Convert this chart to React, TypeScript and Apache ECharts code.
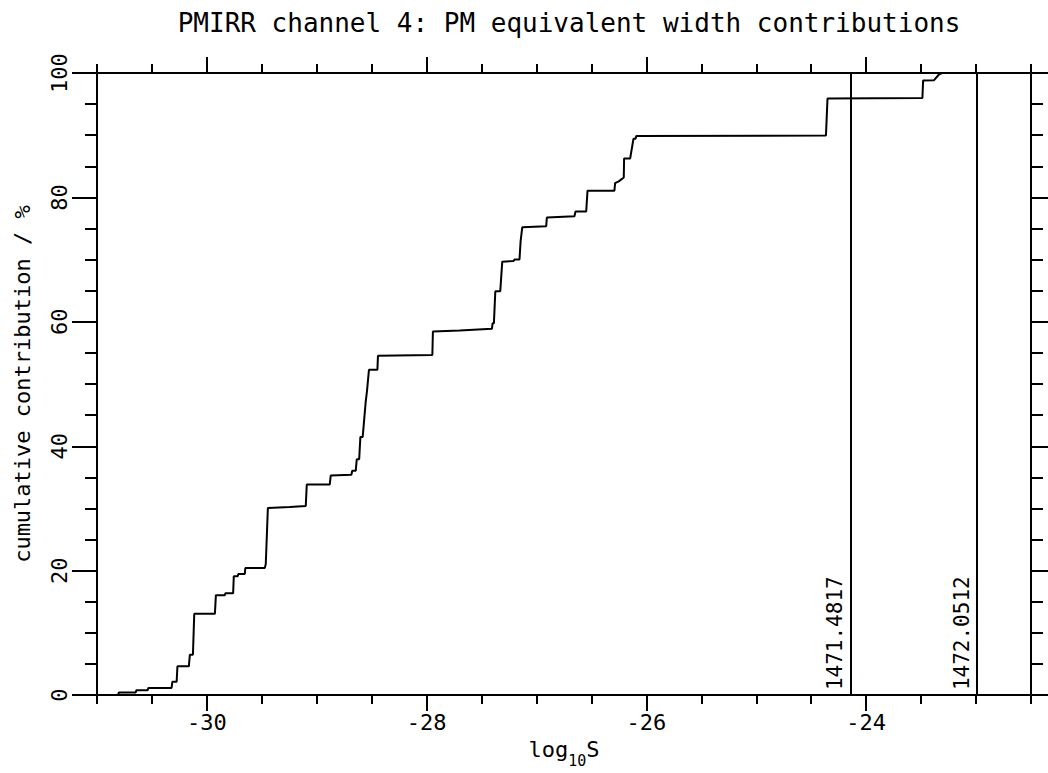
import React, { useEffect, useRef } from "react";
import * as echarts from "echarts";

const titleText = "PMIRR channel 4: PM equivalent width contributions";
const yAxisTitle = "cumulative contribution / %";

const X_MIN = -31;
const X_MAX = -22.5;
const xMajorTicks = [-30, -28, -26, -24];

// cumulative curve: log10 S values and cumulative percentage
const curveLogS = [
  -31.0, -30.809, -30.8, -30.648, -30.641, -30.539, -30.532, -30.321, -30.314, -30.275,
  -30.268, -30.164, -30.155, -30.127, -30.115, -29.927, -29.918, -29.836, -29.832, -29.761,
  -29.755, -29.718, -29.714, -29.655, -29.65, -29.473, -29.464, -29.445, -29.245, -29.1,
  -29.091, -28.882, -28.873, -28.685, -28.677, -28.645, -28.636, -28.614, -28.603, -28.582,
  -28.555, -28.543, -28.525, -28.448, -28.443, -27.948, -27.943, -27.7, -27.406, -27.4,
  -27.388, -27.375, -27.33, -27.312, -27.209, -27.2, -27.155, -27.145, -27.13, -26.912,
  -26.906, -26.655, -26.645, -26.548, -26.536, -26.291, -26.285, -26.252, -26.206, -26.203,
  -26.148, -26.118, -26.1, -26.091, -24.366, -24.352, -23.488, -23.482, -23.382, -23.336,
  -23.309, -22.791,
];
const curveCumPct = [
  0, 0, 0.43, 0.43, 0.79, 0.79, 1.15, 1.15, 2.16, 2.16,
  4.63, 4.63, 6.48, 6.48, 13.06, 13.06, 16.07, 16.07, 16.38, 16.38,
  19.12, 19.12, 19.48, 19.48, 20.43, 20.43, 21.06, 30.06, 30.25, 30.4,
  33.85, 33.85, 35.28, 35.43, 36.07, 36.07, 37.91, 37.91, 41.5, 41.5,
  47.08, 48.86, 52.29, 52.29, 54.55, 54.66, 58.45, 58.6, 58.88, 59.76,
  59.76, 64.93, 64.93, 69.67, 69.78, 70.03, 70.03, 72.94, 75.2, 75.36,
  76.78, 76.98, 77.73, 77.73, 81.09, 81.09, 82.31, 82.58, 83.2, 86.26,
  86.26, 89.42, 89.42, 89.89, 89.94, 95.89, 96.0, 98.78, 98.85, 99.8,
  100, 100,
];

// vertical markers
const markerLogS = [-24.139, -22.994];
const markerLabels = ["1471.4817", "1472.0512"];

const FONT = "DejaVu Sans Mono";
const BLACK = "#000";

export default function App() {
  const ref = useRef<HTMLDivElement>(null);

  useEffect(() => {
    if (!ref.current) return;
    const chart = echarts.init(ref.current, undefined, { renderer: "svg" });
    const data = curveLogS.map((x, i) => [x, curveCumPct[i]]);
    const lineStyle = { color: BLACK, width: 2 };
    const xCommon = {
      type: "value",
      min: X_MIN,
      max: X_MAX,
      splitLine: { show: false },
      axisLine: { show: true, onZero: false, lineStyle },
    };
    const yCommon = {
      type: "value",
      min: 0,
      max: 100,
      interval: 20,
      splitLine: { show: false },
      minorSplitLine: { show: false },
      axisLine: { show: true, onZero: false, lineStyle },
      axisTick: { show: true, length: 25, lineStyle },
      minorTick: { show: true, splitNumber: 4, length: 12, lineStyle },
    };
    chart.setOption({
      animation: false,
      backgroundColor: "#fff",
      title: {
        text: titleText,
        left: 564,
        top: 5,
        textAlign: "center",
        textStyle: { fontFamily: FONT, fontSize: 26, fontWeight: "normal", color: BLACK },
      },
      grid: { left: 97, width: 934, top: 73, height: 633, containLabel: false },
      xAxis: [
        {
          ...xCommon,
          position: "bottom",
          axisTick: { show: true, customValues: xMajorTicks, length: 16, lineStyle },
          axisLabel: {
            customValues: xMajorTicks,
            margin: 16,
            fontFamily: FONT,
            fontSize: 22,
            color: BLACK,
          },
          name: "{a|log}{sub|10}{a|S}",
          nameLocation: "middle",
          nameGap: 30,
          nameTextStyle: {
            rich: {
              a: { fontFamily: FONT, fontSize: 22, color: BLACK, verticalAlign: "top", lineHeight: 30 },
              sub: { fontFamily: FONT, fontSize: 15, color: BLACK, verticalAlign: "bottom", lineHeight: 30 },
            },
          },
        },
        {
          ...xCommon,
          position: "bottom",
          interval: 0.5,
          axisTick: { show: true, length: 9, lineStyle },
          axisLabel: { show: false },
        },
        {
          ...xCommon,
          position: "top",
          axisTick: { show: true, customValues: xMajorTicks, length: 16, lineStyle },
          axisLabel: { show: false },
        },
        {
          ...xCommon,
          position: "top",
          interval: 0.5,
          axisTick: { show: true, length: 9, lineStyle },
          axisLabel: { show: false },
        },
      ],
      yAxis: [
        {
          ...yCommon,
          position: "left",
          axisLabel: {
            rotate: 90,
            margin: 27,
            fontFamily: FONT,
            fontSize: 22,
            color: BLACK,
          },
          name: yAxisTitle,
          nameLocation: "middle",
          nameRotate: 90,
          nameGap: 64,
          nameTextStyle: { fontFamily: FONT, fontSize: 22, color: BLACK },
        },
        {
          ...yCommon,
          position: "right",
          axisLabel: { show: false },
        },
      ],
      series: [
        {
          type: "line",
          xAxisIndex: 0,
          yAxisIndex: 0,
          data,
          showSymbol: false,
          symbol: "none",
          lineStyle,
          silent: true,
          markLine: {
            silent: true,
            symbol: ["none", "none"],
            lineStyle: { color: BLACK, width: 2, type: "solid" },
            label: {
              show: true,
              position: "insideStartTop",
              formatter: "{b}",
              fontFamily: FONT,
              fontSize: 21,
              color: BLACK,
              distance: 5,
            },
            data: markerLogS.map((x, i) => ({ xAxis: x, name: markerLabels[i] })),
          },
        },
      ],
    });
    return () => chart.dispose();
  }, []);

  return (
    <div
      ref={ref}
      style={{ position: "absolute", left: 0, top: 0, width: 1048, height: 773, background: "#fff" }}
    />
  );
}
